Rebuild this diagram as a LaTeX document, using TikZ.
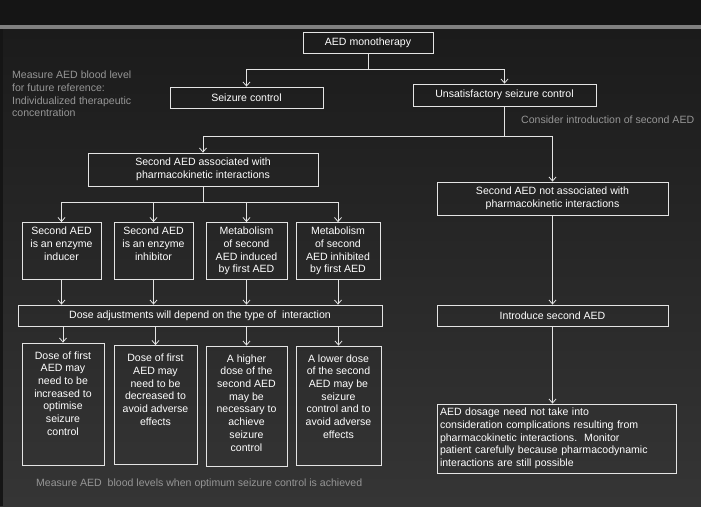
\documentclass[tikz,border=0pt]{standalone}
\usepackage{fontspec}
\setmainfont{Liberation Sans}
\usetikzlibrary{arrows.meta}

\definecolor{bgtop}{RGB}{27,27,27}
\definecolor{bgbottom}{RGB}{53,53,53}
\definecolor{band}{RGB}{21,21,21}
\definecolor{rulegray}{RGB}{128,128,128}
\definecolor{boxline}{RGB}{228,228,228}
\definecolor{notegray}{RGB}{150,150,150}

\newcommand{\topbox}[3]{\parbox[c][#1][t]{#2}{\centering #3}}

\begin{document}
\begin{tikzpicture}[x=1pt, y=-1pt,
    >={Straight Barb[length=4pt, width=7pt]},
    txt/.style={font=\fontsize{10.55}{12.7}\selectfont},
    box/.style={txt, draw=boxline, line width=0.8pt, text=white, align=center, inner sep=2pt},
    smallbox/.style={box, inner xsep=1.5pt, inner ysep=4.5pt},
    tallbox/.style={box, inner xsep=1pt, inner ysep=8.5pt},
    note/.style={txt, text=notegray, align=left, inner sep=0pt},
    link/.style={draw=boxline, line width=0.8pt}]

    % background
    \useasboundingbox (0,0) rectangle (701,506);
    \fill[band] (0,0) rectangle (701,25);
    \fill[rulegray] (0,25) rectangle (701,29);
    \shade[top color=bgtop, bottom color=bgbottom] (0,29) rectangle (701,506);
    \fill[band] (0,29) rectangle (3,506);

    \node[box, minimum width=130pt, minimum height=21pt] (mono) at (368,42.5) {AED monotherapy};
    \node[box, minimum width=153pt, minimum height=21pt] (ctrl) at (246.5,97.5) {Seizure control};
    \node[box, minimum width=183pt, minimum height=22pt] (unsat) at (504.5,95) {Unsatisfactory seizure control};

    \node[note, anchor=north west] (level) at (12,71) {Measure AED blood level\\for future reference:\\Individualized therapeutic\\concentration};
    \node[note, anchor=base west] (consider) at (521,123.5) {Consider introduction of second AED};

    \node[box, minimum width=230pt, minimum height=33pt] (assoc) at (203,169.5) {Second AED associated with\\pharmacokinetic interactions};
    \node[box, minimum width=231pt, minimum height=33pt] (notassoc) at (552.5,198.5) {Second AED not associated with\\pharmacokinetic interactions};

    \node[smallbox] (b1) at (61.5,251) {\topbox{48pt}{76pt}{Second AED\\is an enzyme\\inducer}};
    \node[smallbox] (b2) at (153.5,251) {\topbox{48pt}{76pt}{Second AED\\is an enzyme\\inhibitor}};
    \node[smallbox] (b3) at (246.5,251) {\topbox{48pt}{78pt}{Metabolism\\of second\\AED induced\\by first AED}};
    \node[smallbox] (b4) at (338,251) {\topbox{48pt}{81pt}{Metabolism\\of second\\AED inhibited\\by first AED}};

    \node[box, minimum width=364pt, minimum height=21pt] (dose) at (200,315.5) {Dose adjustments will depend on the type of\ \ interaction};
    \node[box, minimum width=231pt, minimum height=21pt] (intro) at (552.5,315.5) {Introduce second AED};

    \node[tallbox] (d1) at (63,404) {\topbox{105pt}{80pt}{Dose of first\\AED may\\need to be\\increased to\\optimise\\seizure\\control}};
    \node[tallbox] (d2) at (155.5,405) {\topbox{102pt}{81pt}{Dose of first\\AED may\\need to be\\decreased to\\avoid adverse\\effects}};
    \node[tallbox] (d3) at (246.5,406) {\topbox{103pt}{79pt}{A higher\\dose of the\\second AED\\may be\\necessary to\\achieve\\seizure\\control}};
    \node[tallbox] (d4) at (338.5,405.5) {\topbox{102pt}{83pt}{A lower dose\\of the second\\AED may be\\seizure\\control and to\\avoid adverse\\effects}};

    \node[box, align=left, text width=233pt, inner xsep=3pt, minimum height=69pt] (final) at (556.5,438.5) {AED dosage need not take into\\consideration complications resulting from\\pharmacokinetic interactions.\ \ Monitor\\patient carefully because pharmacodynamic\\interactions are still possible};

    \node[note, anchor=base west] (achieved) at (36,486.5) {Measure AED\ \ blood levels when optimum seizure control is achieved};

    % connectors
    \coordinate (split1) at (mono.south |- 0,69);
    \coordinate (split2) at (unsat.south |- 0,136);
    \coordinate (split3) at (assoc.south |- 0,202);

    \draw[link] (mono.south) -- (split1);
    \draw[link, ->] (split1) -| (ctrl.north);
    \draw[link, ->] (split1) -| (unsat.north);

    \draw[link] (unsat.south) -- (split2);
    \draw[link, ->] (split2) -| (assoc.north);
    \draw[link, ->] (split2) -| (notassoc.north);

    \draw[link] (assoc.south) -- (split3);
    \draw[link, ->] (split3) -| (b1.north);
    \draw[link, ->] (split3) -| (b2.north);
    \draw[link, ->] (split3) -| (b3.north);
    \draw[link, ->] (split3) -| (b4.north);

    \draw[link, ->] (b1.south) -- (b1.south |- dose.north);
    \draw[link, ->] (b2.south) -- (b2.south |- dose.north);
    \draw[link, ->] (b3.south) -- (b3.south |- dose.north);
    \draw[link, ->] (b4.south) -- (b4.south |- dose.north);

    \draw[link, ->] (dose.south -| d1.north) -- (d1.north);
    \draw[link, ->] (dose.south -| d2.north) -- (d2.north);
    \draw[link, ->] (dose.south -| d3.north) -- (d3.north);
    \draw[link, ->] (dose.south -| d4.north) -- (d4.north);

    \draw[link, ->] (notassoc.south) -- (intro.north);
    \draw[link, ->] (intro.south) -- (intro.south |- final.north);
\end{tikzpicture}
\end{document}
